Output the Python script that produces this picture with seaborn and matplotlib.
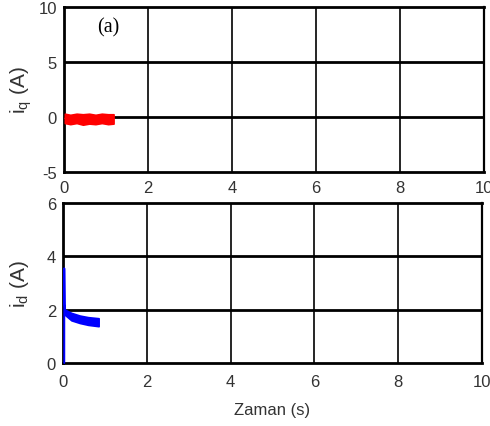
import numpy as np
import pandas as pd
import matplotlib
matplotlib.use("Agg")
import matplotlib.pyplot as plt
import seaborn as sns

# q-axis current: noisy band around zero (envelope)
iq_t = [0.02, 0.15, 0.3, 0.45, 0.6, 0.75, 0.9, 1.05, 1.18]
iq_upper = [0.30, 0.20, 0.30, 0.25, 0.30, 0.20, 0.30, 0.25, 0.25]
iq_lower = [-0.55, -0.65, -0.55, -0.70, -0.60, -0.65, -0.55, -0.65, -0.60]

# d-axis current: start-up spike, then a decaying noisy band
id_spike_t = [0.03, 0.03, 0.04, 0.05]
id_spike_v = [0.0, 3.55, 2.2, 2.0]
id_t = [0.05, 0.2, 0.4, 0.6, 0.85]
id_upper = [2.00, 1.88, 1.78, 1.72, 1.68]
id_lower = [1.80, 1.60, 1.50, 1.43, 1.38]

x_ticks = [0, 2, 4, 6, 8, 10]
iq_ticks = [-5, 0, 5, 10]
id_ticks = [0, 2, 4, 6]

sns.set_theme(style="white")
plt.rcParams["font.family"] = ["Liberation Sans", "DejaVu Sans"]
plt.rcParams["mathtext.fontset"] = "custom"
plt.rcParams["mathtext.rm"] = "Liberation Sans"
plt.rcParams["mathtext.it"] = "Liberation Sans"
plt.rcParams["axes.unicode_minus"] = False

fig = plt.figure(figsize=(4.9, 4.27), dpi=100)
ax1 = fig.add_axes([0.1306, 0.5948, 0.8572, 0.3865])
ax2 = fig.add_axes([0.1286, 0.1475, 0.8551, 0.3747])

label_color = "#333333"


def style_axes(ax, yticks, xpad):
    ax.set_xlim(0, 10)
    ax.set_ylim(yticks[0], yticks[-1])
    ax.set_xticks(x_ticks)
    ax.set_yticks(yticks)
    ax.tick_params(length=0, labelsize=12, colors=label_color)
    ax.tick_params(axis="y", pad=5)
    ax.tick_params(axis="x", pad=xpad)
    for v in x_ticks[1:-1]:
        ax.axvline(v, color="black", lw=1.2, zorder=1)
    for v in yticks[1:-1]:
        ax.axhline(v, color="black", lw=2.0, zorder=1)
    for side in ["left", "bottom", "top"]:
        ax.spines[side].set_linewidth(2.0)
        ax.spines[side].set_color("black")
    ax.spines["right"].set_linewidth(1.6)
    ax.spines["right"].set_color("black")
    ax.set_xlabel("")


# top panel: i_q
iq_df = pd.DataFrame({"t": iq_t, "mid": np.add(iq_upper, iq_lower) / 2})
sns.lineplot(data=iq_df, x="t", y="mid", ax=ax1, color="red", lw=1, zorder=3)
ax1.fill_between(iq_t, iq_lower, iq_upper, color="red", lw=1.2, edgecolor="red", zorder=3)
style_axes(ax1, iq_ticks, 6)
ax1.set_ylabel("i$_\\mathregular{q}$ (A)", fontsize=15, color=label_color, labelpad=3)
ax1.text(0.8, 7.8, "(a)", family=["Liberation Serif"], fontsize=14.5, color="black")

# bottom panel: i_d
spike_df = pd.DataFrame({"t": id_spike_t, "v": id_spike_v})
sns.lineplot(data=spike_df, x="t", y="v", ax=ax2, color="blue", lw=1.4,
             sort=False, estimator=None, zorder=4)
ax2.lines[-1].set_clip_on(False)
id_df = pd.DataFrame({"t": id_t, "mid": np.add(id_upper, id_lower) / 2})
sns.lineplot(data=id_df, x="t", y="mid", ax=ax2, color="blue", lw=1, zorder=3)
ax2.fill_between(id_t, id_lower, id_upper, color="blue", lw=1.2, edgecolor="blue", zorder=3)
style_axes(ax2, id_ticks, 8)
ax2.set_ylabel("i$_\\mathregular{d}$ (A)", fontsize=15, color=label_color, labelpad=11)
ax2.set_xlabel("Zaman (s)", fontsize=12, color=label_color, labelpad=9)

for ax in (ax1, ax2):
    for lab in ax.get_xticklabels() + ax.get_yticklabels():
        lab.set_clip_on(False)

fig.savefig("out.png", dpi=100)
